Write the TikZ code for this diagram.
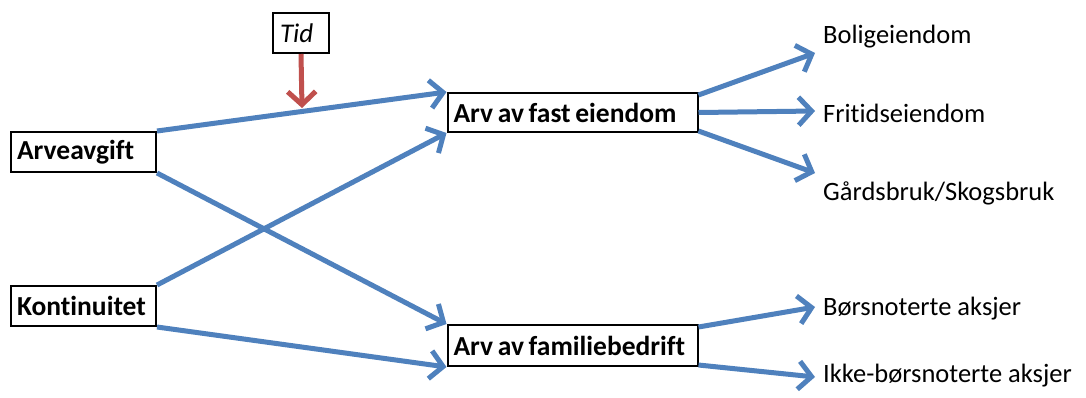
\documentclass[tikz,border=0pt]{standalone}
\usepackage{fontspec}
\setmainfont{Carlito}[Ligatures=NoCommon]
\newfontfamily\boxfont{Carlito}[Ligatures=NoCommon, WordSpace=0.75]
\usetikzlibrary{arrows.meta,calc}
\definecolor{arrowblue}{HTML}{4F81BD}
\definecolor{arrowred}{HTML}{C0504D}
\tikzset{
  box/.style={draw=black, line width=2pt, rectangle, minimum height=40pt, inner ysep=0pt,
    font=\fontsize{27.5}{30}\selectfont\boxfont\bfseries},
  lbl/.style={anchor=base west, inner sep=0pt, font=\fontsize{26.5}{30}\selectfont},
  conn/.style={draw=arrowblue, line width=5pt, -{Straight Barb[length=13pt,width=28pt]}},
  redconn/.style={draw=arrowred, line width=5pt, -{Straight Barb[length=13pt,width=28pt]}}
}
\begin{document}
\begin{tikzpicture}[x=1pt,y=-1pt]
\useasboundingbox (0,0) rectangle (1086,397);
\fill[white] (0,0) rectangle (1086,397);
% boxes
\node[box, inner xsep=6pt] (arve) at (83.5,152) {\makebox[133pt][l]{Arveavgift}};
\node[box, inner xsep=6pt] (kont) at (83.5,306) {\makebox[133pt][l]{Kontinuitet}};
\node[box, inner xsep=6pt, minimum height=39pt] (fast) at (572.5,112.5) {\makebox[238pt][l]{Arv av fast eiendom}};
\node[box, inner xsep=6pt, minimum height=41pt] (fam) at (572.5,345.5) {\makebox[238pt][l]{Arv av familiebedrift}};
\node[box, inner xsep=7pt, font=\fontsize{27}{30}\selectfont\itshape] (tid) at (301,33) {\makebox[42pt][l]{Tid}};
% labels
\node[lbl] (bolig) at (823,43) {Boligeiendom};
\node[lbl] (frit) at (823,122) {Fritidseiendom};
\node[lbl] (gard) at (823,200) {Gårdsbruk/Skogsbruk};
\node[lbl] (bors) at (823,315) {Børsnoterte aksjer};
\node[lbl] (ikke) at (823,382) {Ikke-børsnoterte aksjer};
\coordinate (tidtip) at (302,108);
% connectors
\draw[redconn] (tid.south) -- (tidtip);
\draw[conn] (arve.north east) -- (fast.north west);
\draw[conn] (kont.north east) -- (fast.south west);
\draw[conn] (arve.south east) -- (fam.north west);
\draw[conn] (kont.south east) -- (fam.south west);
\draw[conn] ([yshift=-3pt]fast.north east) -- ($(bolig.base west)+(-8,10)$);
\draw[conn] (fast.east) -- ($(frit.base west)+(-8,-11)$);
\draw[conn] ([yshift=2pt]fast.south east) -- ($(gard.base west)+(-8,-27)$);
\draw[conn] ([yshift=-3pt]fam.north east) -- ($(bors.base west)+(-8,-8)$);
\draw[conn] ([yshift=2pt]fam.south east) -- ($(ikke.base west)+(-8,-5)$);
\end{tikzpicture}
\end{document}
